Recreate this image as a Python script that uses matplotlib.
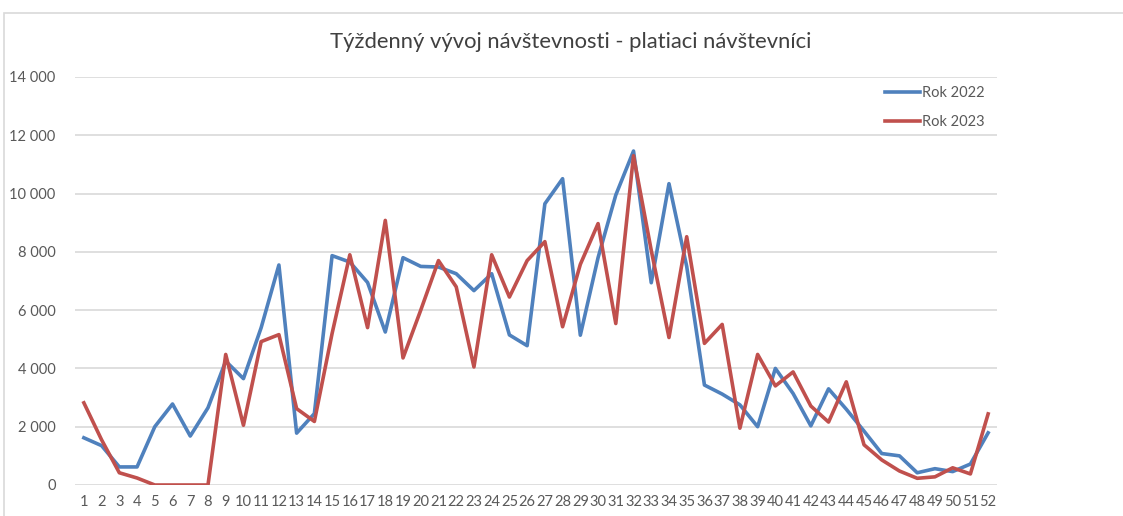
import matplotlib
matplotlib.use("Agg")
import matplotlib.pyplot as plt
from matplotlib.patches import Rectangle
from matplotlib.ticker import FuncFormatter, MultipleLocator

TITLE = "Týždenný vývoj návštevnosti - platiaci návštevníci"
WEEKS = list(range(1, 53))
ROK_2022 = [1620, 1350, 620, 620, 2000, 2780, 1680, 2650, 4250, 3650,
            5400, 7550, 1780, 2450, 7870, 7650, 6950, 5250, 7800, 7500,
            7480, 7250, 6670, 7250, 5150, 4780, 9650, 10510, 5140, 7800,
            9950, 11460, 6940, 10340, 7500, 3430, 3120, 2750, 2000, 4000,
            3140, 2030, 3300, 2600, 1850, 1080, 1000, 420, 560, 460,
            720, 1790]
ROK_2023 = [2820, 1550, 420, 240, 0, 0, 0, 0, 4480, 2050,
            4920, 5160, 2620, 2180, 5200, 7900, 5400, 9080, 4360, 6000,
            7700, 6800, 4050, 7900, 6450, 7700, 8350, 5430, 7570, 8970,
            5540, 11300, 8050, 5060, 8520, 4860, 5510, 1950, 4480, 3400,
            3880, 2710, 2160, 3540, 1380, 860, 480, 230, 280, 590,
            380, 2440]
SERIES_LABELS = ["Rok 2022", "Rok 2023"]

BLUE = "#4F81BD"
RED = "#C0504D"
GRID = "#D9D9D9"
TEXT = "#595959"

plt.rcParams["font.family"] = ["Lato", "DejaVu Sans"]

fig = plt.figure(figsize=(11.23, 5.16), dpi=100)
fig.patches.append(Rectangle((4 / 1123, -0.05), 1.1, 1 - 13 / 516 + 0.05,
                             transform=fig.transFigure, fill=False,
                             edgecolor="#D9D9D9", linewidth=1.2))

ax = fig.add_axes([75 / 1123, 31 / 516, 922 / 1123, 408 / 516])
ax.plot(WEEKS, ROK_2022, color=BLUE, lw=2.6, label=SERIES_LABELS[0])
ax.plot(WEEKS, ROK_2023, color=RED, lw=2.6, label=SERIES_LABELS[1])

ax.set_xlim(0.5, 52.5)
ax.set_ylim(0, 14000)
ax.set_xticks(WEEKS)
ax.set_xticklabels([str(w) for w in WEEKS])
ax.yaxis.set_major_locator(MultipleLocator(2000))
ax.yaxis.set_major_formatter(FuncFormatter(lambda v, p: f"{int(v):,}".replace(",", " ")))
ax.grid(axis="y", color=GRID, lw=1.2)
ax.set_axisbelow(True)
for s in ["top", "right", "left", "bottom"]:
    ax.spines[s].set_visible(False)
ax.tick_params(axis="both", length=0, labelcolor=TEXT, labelsize=10.5)
ax.tick_params(axis="y", pad=14)
ax.tick_params(axis="x", pad=7)

ax.legend(loc="upper left", bbox_to_anchor=(0.864, 1.01), frameon=False,
          handlelength=2.4, handletextpad=0.15, labelspacing=1.0,
          fontsize=10.5, labelcolor=TEXT)

fig.text(0.508, 0.918, TITLE, ha="center", va="center", fontsize=15.8, color="#404040")

fig.savefig("out.png", dpi=100)
